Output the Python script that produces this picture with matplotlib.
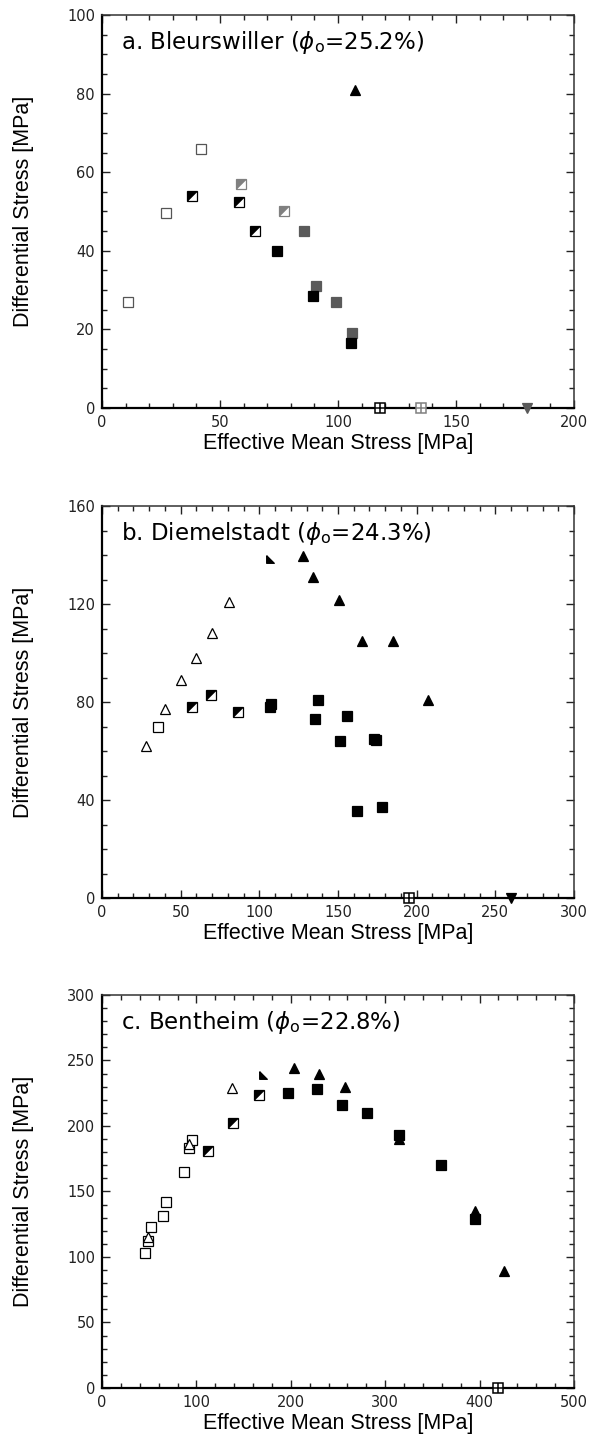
import numpy as np
import matplotlib
matplotlib.use('Agg')
import matplotlib.pyplot as plt
from matplotlib.ticker import MultipleLocator

# ---- panel a: Bleurswiller ----
a_open_sq_x = [11, 27, 42]
a_open_sq_y = [27, 49.5, 66]
a_half_sq_x = [38, 58, 65]
a_half_sq_y = [54, 52.5, 45]
a_grayhalf_sq_x = [59, 77]
a_grayhalf_sq_y = [57, 50]
a_black_sq_x = [74, 89.5, 105.5]
a_black_sq_y = [40, 28.4, 16.5]
a_gray_sq_x = [85.5, 90.5, 99, 106]
a_gray_sq_y = [45, 31, 27, 19]
a_black_tri_x = [107]
a_black_tri_y = [81]
a_cross_x = [118]
a_graycross_x = [135]
a_graydown_x = [180]

# ---- panel b: Diemelstadt ----
b_open_tri_x = [28, 40, 50, 60, 70, 81]
b_open_tri_y = [62, 77, 89, 98, 108, 121]
b_open_sq_x = [35.5]
b_open_sq_y = [70]
b_half_sq_x = [57, 69, 86.5]
b_half_sq_y = [78, 83, 76]
b_black_sq_x = [106.5, 107.5, 135.5, 137.5, 151.5, 155.5, 162, 173, 174, 178]
b_black_sq_y = [78, 79, 73, 80.7, 64, 74.3, 35.5, 65, 64.5, 37]
b_half_tri_x = [107]
b_half_tri_y = [138.5]
b_black_tri_x = [127.5, 134, 150.5, 165, 185, 207]
b_black_tri_y = [139.5, 131, 121.5, 105, 105, 81]
b_cross_x = [195]
b_down_x = [260]

# ---- panel c: Bentheim ----
c_open_sq_x = [46, 49, 51.5, 65, 68, 86.5, 92, 95.5]
c_open_sq_y = [103, 112.5, 123, 131, 142, 165, 183.5, 189]
c_open_tri_x = [49, 92, 137.5]
c_open_tri_y = [115, 186, 229]
c_half_sq_x = [112, 139, 166]
c_half_sq_y = [181, 202.5, 223.5]
c_half_tri_x = [171]
c_half_tri_y = [238.5]
c_black_tri_x = [203, 230, 257.5, 315, 395.5, 425.5]
c_black_tri_y = [244.5, 240, 230, 190, 135, 89.5]
c_black_sq_x = [197, 228, 254, 281, 315, 359, 395]
c_black_sq_y = [225, 228, 216, 210, 193, 170, 129]
c_cross_x = [420]

titles = [r'a. Bleurswiller ($\phi_\mathrm{o}$=25.2%)',
          r'b. Diemelstadt ($\phi_\mathrm{o}$=24.3%)',
          r'c. Bentheim ($\phi_\mathrm{o}$=22.8%)']

MS = 7
GRAY = '#5a5a5a'
LGRAY = '#808080'
UL_TRI = [(-1, -1), (-1, 1), (1, 1), (-1, -1)]
HALF_TRI = [(-1, 1), (-1, -1), (1, -1), (-1, 1)]


def pts(ax, x, y, marker, fc, ec, ms=MS, lw=0.9):
    ax.plot(x, y, linestyle='none', marker=marker, ms=ms, mfc=fc, mec=ec,
            mew=lw, clip_on=False, zorder=5)


def open_sq(ax, x, y, ec='k'):
    pts(ax, x, y, 's', 'white', ec)


def half_sq(ax, x, y, col='k'):
    pts(ax, x, y, 's', 'white', col)
    pts(ax, x, y, UL_TRI, col, col, ms=MS - 0.5, lw=0.3)


def cross_sq(ax, x, ec='k'):
    y = [0] * len(x)
    pts(ax, x, y, 's', 'white', ec, ms=6.5, lw=1.1)
    pts(ax, x, y, '+', ec, ec, ms=6.5, lw=1.1)


fig = plt.figure(figsize=(5.89, 14.55), dpi=100)
boxes = [[0.1732, 0.7196, 0.8013, 0.2701],
         [0.1732, 0.3828, 0.8013, 0.2694],
         [0.1732, 0.0461, 0.8013, 0.2701]]
xlims = [200, 300, 500]
ylims = [100, 160, 300]
xmaj = [50, 50, 100]
xmin = [10, 10, 20]
ymaj = [20, 40, 50]
ymin = [5, 10, 10]

axs = []
for i in range(3):
    ax = fig.add_axes(boxes[i])
    ax.set_xlim(0, xlims[i])
    ax.set_ylim(0, ylims[i])
    ax.xaxis.set_major_locator(MultipleLocator(xmaj[i]))
    ax.xaxis.set_minor_locator(MultipleLocator(xmin[i]))
    ax.yaxis.set_major_locator(MultipleLocator(ymaj[i]))
    ax.yaxis.set_minor_locator(MultipleLocator(ymin[i]))
    ax.tick_params(which='both', direction='in', top=True, right=True,
                   labelsize=10.5, width=1, colors='#222222', pad=5)
    ax.tick_params(which='major', length=6)
    ax.tick_params(which='minor', length=3.5)
    for s in ax.spines.values():
        s.set_linewidth(1.1)
        s.set_color('#333333')
    ax.spines['left'].set_linewidth(1.6)
    ax.spines['bottom'].set_linewidth(1.6)
    ax.spines['left'].set_color('k')
    ax.spines['bottom'].set_color('k')
    ax.set_xlabel('Effective Mean Stress [MPa]', fontsize=15.5,
                  family='Liberation Sans', labelpad=2)
    ax.set_ylabel('Differential Stress [MPa]', fontsize=15.5,
                  family='Liberation Sans', labelpad=24)
    ax.text(0.04, 0.965, titles[i], transform=ax.transAxes, fontsize=16.5,
            va='top', ha='left')
    axs.append(ax)

# panel a
ax = axs[0]
open_sq(ax, a_open_sq_x, a_open_sq_y, ec='#555555')
half_sq(ax, a_half_sq_x, a_half_sq_y)
half_sq(ax, a_grayhalf_sq_x, a_grayhalf_sq_y, col=LGRAY)
pts(ax, a_gray_sq_x, a_gray_sq_y, 's', GRAY, GRAY)
pts(ax, a_black_sq_x, a_black_sq_y, 's', 'k', 'k')
pts(ax, a_black_tri_x, a_black_tri_y, '^', 'k', 'k')
cross_sq(ax, a_cross_x)
cross_sq(ax, a_graycross_x, ec=LGRAY)
pts(ax, a_graydown_x, [0] * len(a_graydown_x), 'v', GRAY, GRAY)

# panel b
ax = axs[1]
pts(ax, b_open_tri_x, b_open_tri_y, '^', 'white', 'k')
open_sq(ax, b_open_sq_x, b_open_sq_y)
half_sq(ax, b_half_sq_x, b_half_sq_y)
pts(ax, b_black_sq_x, b_black_sq_y, 's', 'k', 'k')
pts(ax, b_half_tri_x, b_half_tri_y, HALF_TRI, 'k', 'k', ms=5.5)
pts(ax, b_black_tri_x, b_black_tri_y, '^', 'k', 'k')
cross_sq(ax, b_cross_x)
pts(ax, b_down_x, [0] * len(b_down_x), 'v', 'k', 'k')

# panel c
ax = axs[2]
open_sq(ax, c_open_sq_x, c_open_sq_y)
pts(ax, c_open_tri_x, c_open_tri_y, '^', 'white', 'k')
half_sq(ax, c_half_sq_x, c_half_sq_y)
pts(ax, c_half_tri_x, c_half_tri_y, HALF_TRI, 'k', 'k', ms=5.5)
pts(ax, c_black_tri_x, c_black_tri_y, '^', 'k', 'k')
pts(ax, c_black_sq_x, c_black_sq_y, 's', 'k', 'k')
cross_sq(ax, c_cross_x)

fig.savefig('out.png', dpi=100)
